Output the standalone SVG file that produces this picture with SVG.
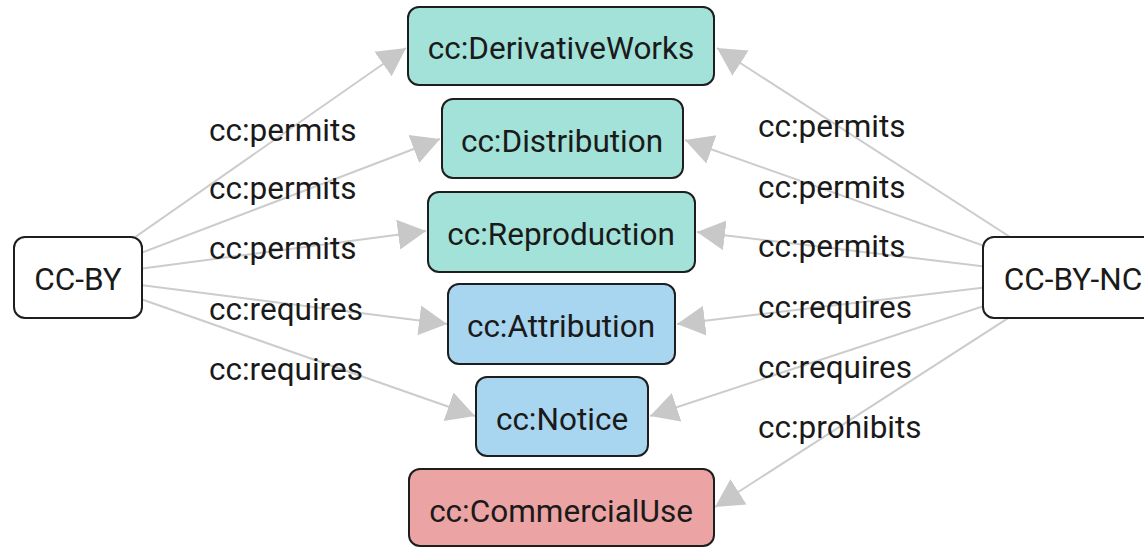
<svg xmlns="http://www.w3.org/2000/svg" width="1144" height="547" viewBox="0 0 1144 547">
<style>
.node rect{stroke:#1e1e1e;stroke-width:2}
.lic rect{fill:#ffffff}
.perm rect{fill:#a2e2d9}
.req rect{fill:#a8d5ef}
.proh rect{fill:#eba3a3}
text{font-family:Roboto,"Liberation Sans",sans-serif;font-size:31.5px;fill:#1a1a1a}
.node text{text-anchor:middle}
.edges line{stroke:#cccccc;stroke-width:2}
</style>
<defs>
<marker id="arr" markerUnits="userSpaceOnUse" markerWidth="30" markerHeight="32" refX="28" refY="15" orient="auto" viewBox="0 0 30 30">
<path d="M0,0 L28,15 L0,30 z" fill="#c8c8c8"/>
</marker>
</defs>
<g class="edges">
<line x1="78" y1="277" x2="406" y2="48" marker-end="url(#arr)"/>
<line x1="78" y1="277" x2="440" y2="139" marker-end="url(#arr)"/>
<line x1="78" y1="277" x2="426" y2="231" marker-end="url(#arr)"/>
<line x1="78" y1="277" x2="447" y2="324" marker-end="url(#arr)"/>
<line x1="78" y1="277" x2="475" y2="416" marker-end="url(#arr)"/>
<line x1="1072" y1="277" x2="717" y2="48" marker-end="url(#arr)"/>
<line x1="1072" y1="277" x2="685" y2="140" marker-end="url(#arr)"/>
<line x1="1072" y1="277" x2="697" y2="232" marker-end="url(#arr)"/>
<line x1="1072" y1="277" x2="677" y2="324" marker-end="url(#arr)"/>
<line x1="1072" y1="277" x2="650" y2="416" marker-end="url(#arr)"/>
<line x1="1072" y1="277" x2="715" y2="507" marker-end="url(#arr)"/>
</g>
<g class="labels">
<text x="209" y="141">cc:permits</text>
<text x="209" y="199">cc:permits</text>
<text x="209" y="259">cc:permits</text>
<text x="209" y="320">cc:requires</text>
<text x="209" y="380">cc:requires</text>
<text x="758" y="137">cc:permits</text>
<text x="758" y="198">cc:permits</text>
<text x="758" y="257">cc:permits</text>
<text x="758" y="318">cc:requires</text>
<text x="758" y="378">cc:requires</text>
<text x="758" y="438">cc:prohibits</text>
</g>
<g id="cc-by" class="node lic"><rect x="14" y="237" width="128" height="81" rx="11"/><text x="78" y="290">CC-BY</text></g>
<g id="cc-by-nc" class="node lic"><rect x="983" y="237" width="180" height="81" rx="11"/><text x="1073" y="290">CC-BY-NC</text></g>
<g id="derivativeworks" class="node perm"><rect x="408" y="7" width="306" height="78" rx="11"/><text x="561" y="59">cc:DerivativeWorks</text></g>
<g id="distribution" class="node perm"><rect x="442" y="99" width="241" height="79" rx="11"/><text x="562" y="152">cc:Distribution</text></g>
<g id="reproduction" class="node perm"><rect x="428" y="192" width="267" height="80" rx="11"/><text x="561" y="245">cc:Reproduction</text></g>
<g id="attribution" class="node req"><rect x="448" y="284" width="227" height="80" rx="11"/><text x="561" y="337">cc:Attribution</text></g>
<g id="notice" class="node req"><rect x="476" y="377" width="172" height="79" rx="11"/><text x="562" y="430">cc:Notice</text></g>
<g id="commercialuse" class="node proh"><rect x="409" y="469" width="305" height="77" rx="11"/><text x="561" y="522">cc:CommercialUse</text></g>
</svg>
